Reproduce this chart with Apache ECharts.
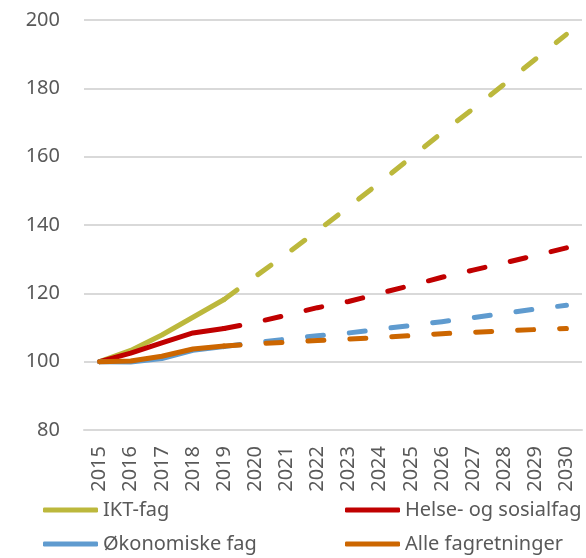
<!DOCTYPE html>
<html>
<head>
<meta charset="utf-8">
<script src="https://cdn.jsdelivr.net/npm/echarts@6/dist/echarts.min.js"></script>
<style>
html,body{margin:0;padding:0;background:#fff;}
#chart{width:586px;height:558px;}
</style>
</head>
<body>
<div id="chart"></div>
<script>
// Categories (years)
var years = ['2015','2016','2017','2018','2019','2020','2021','2022','2023','2024','2025','2026','2027','2028','2029','2030'];
// Last observed year: solid line up to here, dashed projection from here
var lastActualYear = '2019';

// Series names
var seriesNames = ['IKT-fag', 'Helse- og sosialfag', 'Økonomiske fag', 'Alle fagretninger'];

// Index values (2015 = 100)
var iktFag      = [100, 103.3, 107.8, 113.0, 118.2, 124.9, 131.5, 138.3, 145.3, 152.4, 159.7, 167.0, 174.0, 181.2, 188.5, 195.8];
var helseSosial = [100, 102.5, 105.5, 108.4, 109.7, 111.5, 113.6, 115.8, 117.6, 120.0, 122.3, 124.7, 126.8, 128.9, 131.1, 133.3];
var okonomiske  = [100, 99.9, 100.9, 103.3, 104.4, 105.6, 106.6, 107.6, 108.4, 109.5, 110.6, 111.7, 112.9, 114.1, 115.4, 116.5];
var alleFag     = [100, 100.2, 101.6, 103.7, 104.6, 105.2, 105.7, 106.2, 106.6, 107.1, 107.6, 108.2, 108.6, 109.0, 109.4, 109.7];

// Y axis ticks
var yMin = 80, yMax = 200, yStep = 20;

var colors = ['#BCB83C', '#C00000', '#5F9BCF', '#CC6600'];
var allData = [iktFag, helseSosial, okonomiske, alleFag];
var splitIdx = years.indexOf(lastActualYear);

var series = [];
allData.forEach(function (arr, i) {
  var actual = arr.map(function (v, j) { return j <= splitIdx ? v : null; });
  var proj = arr.map(function (v, j) { return j >= splitIdx ? v : null; });
  series.push({
    name: seriesNames[i], type: 'line', data: proj, symbol: 'none', showSymbol: false,
    color: colors[i], z: 2 + i,
    lineStyle: { width: 5, color: colors[i], type: [16, 26], cap: 'round', join: 'round' },
    emphasis: { disabled: true }, silent: true
  });
  series.push({
    name: seriesNames[i], type: 'line', data: actual, symbol: 'none', showSymbol: false,
    color: colors[i], z: 2 + i,
    lineStyle: { width: 5, color: colors[i], type: 'solid', cap: 'round', join: 'round' },
    emphasis: { disabled: true }, silent: true
  });
});

var font = '"Noto Sans", "Open Sans", sans-serif';
var legendPos = [
  { left: 43, top: 500 },
  { left: 345, top: 500 },
  { left: 43, top: 534 },
  { left: 345, top: 534 }
];
var legends = seriesNames.map(function (n, i) {
  return {
    data: [n], left: legendPos[i].left, top: legendPos[i].top, padding: 0,
    icon: 'roundRect', itemWidth: 55, itemHeight: 5, itemGap: 0,
    selectedMode: false,
    textStyle: { fontFamily: font, fontSize: 20, color: '#595959', padding: [0, 0, 0, 0] }
  };
});

var chart = echarts.init(document.getElementById('chart'), null, { renderer: 'canvas' });
chart.setOption({
  animation: false,
  backgroundColor: '#ffffff',
  grid: { left: 84, right: 4, top: 20, bottom: 128, containLabel: false, outerBoundsMode: 'none' },
  legend: legends,
  xAxis: {
    type: 'category', data: years, boundaryGap: true,
    axisLine: { show: true, lineStyle: { color: '#D9D9D9', width: 2 } },
    axisTick: { show: false },
    axisLabel: { rotate: 90, fontFamily: font, fontSize: 20, color: '#595959', margin: 16, interval: 0 }
  },
  yAxis: {
    type: 'value', min: yMin, max: yMax, interval: yStep,
    axisLine: { show: false }, axisTick: { show: false },
    splitLine: { lineStyle: { color: '#D9D9D9', width: 2 } },
    axisLabel: { fontFamily: font, fontSize: 20, color: '#595959', margin: 24 }
  },
  series: series
});
</script>
</body>
</html>
